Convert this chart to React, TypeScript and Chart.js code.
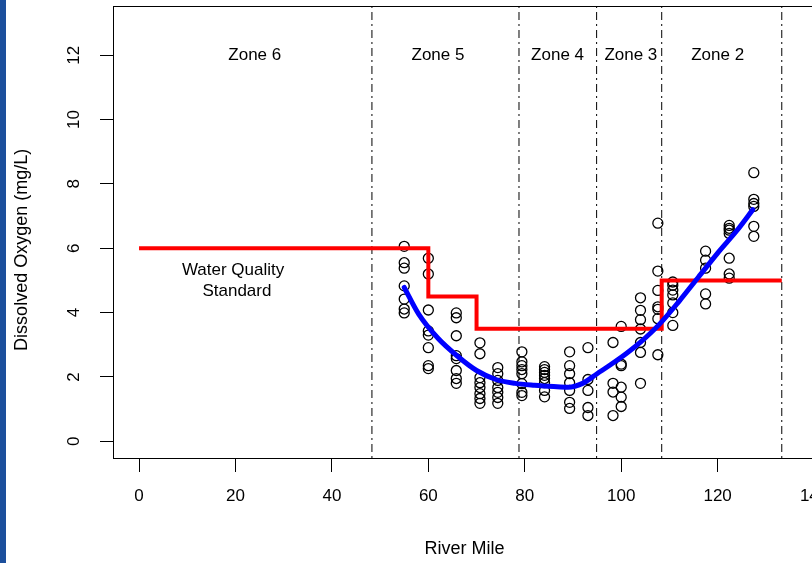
import React, { useEffect, useRef } from "react";
import { Chart, registerables } from "chart.js";

Chart.register(...registerables);

// ---------- data ----------
const xTickValues = [0, 20, 40, 60, 80, 100, 120, 140];
const yTickValues = [0, 2, 4, 6, 8, 10, 12];

const sampleMiles = [55, 60, 65.8, 70.7, 74.4, 79.4, 84.1, 89.3, 93.1, 98.3, 100, 104, 107.6, 110.7, 117.5, 122.4, 127.5];
const sampleDO: number[][] = [
  [6.06, 5.55, 5.38, 4.83, 4.42, 4.11, 3.99],
  [5.69, 5.2, 4.08, 3.43, 3.3, 2.91, 2.35, 2.26],
  [3.99, 3.84, 3.28, 2.66, 2.57, 2.2, 1.95, 1.8],
  [3.06, 2.72, 1.98, 1.82, 1.67, 1.48, 1.33, 1.18],
  [2.29, 2.1, 1.89, 1.67, 1.52, 1.36, 1.18],
  [2.78, 2.47, 2.35, 2.23, 2.1, 1.79, 1.52, 1.42],
  [2.32, 2.23, 2.14, 2.05, 1.95, 1.82, 1.58, 1.38],
  [2.78, 2.35, 2.1, 1.82, 1.58, 1.21, 1.02],
  [2.91, 1.92, 1.58, 1.05, 0.8],
  [3.07, 1.8, 1.53, 0.8],
  [3.57, 2.4, 2.35, 1.68, 1.37, 1.08],
  [4.46, 4.07, 3.78, 3.49, 3.07, 2.76, 1.8],
  [6.78, 5.29, 4.69, 4.18, 4.1, 3.81, 2.69],
  [4.95, 4.85, 4.7, 4.55, 4.3, 4.0, 3.6],
  [5.91, 5.63, 5.38, 4.58, 4.27],
  [6.71, 6.62, 6.56, 6.46, 5.69, 5.2, 5.07],
  [8.35, 7.52, 7.39, 7.3, 6.68, 6.37],
];

const fitMiles = [55, 58, 62, 66, 70, 74, 78, 82, 86, 89, 92, 95, 98, 101, 104, 108, 112, 116, 120, 124, 127.3];
const fitDO = [4.78, 3.95, 3.2, 2.65, 2.2, 1.92, 1.8, 1.74, 1.7, 1.68, 1.8, 2.1, 2.4, 2.72, 3.08, 3.65, 4.35, 5.1, 5.85, 6.55, 7.2];

const standardMiles = [0, 60, 60, 70, 70, 108.4, 108.4, 133.3];
const standardDO = [6, 6, 4.5, 4.5, 3.5, 3.5, 5, 5];

const zoneBoundaries = [48.3, 78.8, 94.9, 108.4, 133.3];
const zoneLabels = ["Zone 6", "Zone 5", "Zone 4", "Zone 3", "Zone 2"];
const zoneLabelMiles = [24, 62, 86.8, 102, 120];
const zoneLabelDO = 12;

const noteLines = ["Water Quality", "Standard"];
const noteMiles = [19.5, 20.3];
const noteDO = [5.3, 4.67];

const xTitle = "River Mile";
const yTitle = "Dissolved Oxygen (mg/L)";

const X_MIN = -5.4;
const X_MAX = 140.4;
const Y_MIN = -0.52;
const Y_MAX = 13.52;

const FONT = "'Liberation Sans', Arial, Helvetica, sans-serif";

function zeroPad(s: any) {
  s.paddingTop = 0;
  s.paddingBottom = 0;
  s.paddingLeft = 0;
  s.paddingRight = 0;
}

export default function App() {
  const ref = useRef<HTMLCanvasElement | null>(null);

  useEffect(() => {
    const canvas = ref.current;
    if (!canvas) return;

    const points: { x: number; y: number }[] = [];
    sampleMiles.forEach((m, i) => sampleDO[i].forEach((v) => points.push({ x: m, y: v })));

    const zoneSets = zoneBoundaries.map((b) => ({
      type: "line" as const,
      data: [
        { x: b, y: Y_MIN },
        { x: b, y: Y_MAX },
      ],
      borderColor: "#000",
      borderWidth: 1,
      borderDash: [2, 4, 8, 4],
      pointRadius: 0,
      fill: false,
      order: 3,
    }));

    const annot = {
      id: "annot",
      afterDatasetsDraw(chart: any) {
        const { ctx, chartArea, scales } = chart;
        const xs = scales.x;
        const ys = scales.y;
        ctx.save();
        ctx.fillStyle = "#000";
        ctx.textAlign = "center";
        ctx.textBaseline = "middle";
        ctx.font = `17px ${FONT}`;
        zoneLabels.forEach((t, i) => {
          ctx.fillText(t, xs.getPixelForValue(zoneLabelMiles[i]), ys.getPixelForValue(zoneLabelDO));
        });
        noteLines.forEach((t, i) => {
          ctx.fillText(t, xs.getPixelForValue(noteMiles[i]), ys.getPixelForValue(noteDO[i]));
        });
        ctx.strokeStyle = "#000";
        ctx.lineWidth = 1;
        ctx.strokeRect(
          Math.round(chartArea.left) + 0.5,
          Math.round(chartArea.top) + 0.5,
          Math.round(chartArea.right - chartArea.left),
          Math.round(chartArea.bottom - chartArea.top)
        );
        // y-axis title (placed as in the reference, slightly below plot centre)
        ctx.font = `18px ${FONT}`;
        ctx.translate(22, ys.getPixelForValue(5.95));
        ctx.rotate(-Math.PI / 2);
        ctx.fillText(yTitle, 0, 0);
        ctx.restore();
      },
    };

    const chart = new Chart(canvas, {
      type: "scatter",
      data: {
        datasets: [
          {
            type: "line",
            data: fitMiles.map((m, i) => ({ x: m, y: fitDO[i] })),
            borderColor: "#0000ff",
            borderWidth: 5,
            pointRadius: 0,
            cubicInterpolationMode: "monotone",
            borderCapStyle: "round",
            fill: false,
            order: 0,
          } as any,
          {
            type: "line",
            data: standardMiles.map((m, i) => ({ x: m, y: standardDO[i] })),
            borderColor: "#ff0000",
            borderWidth: 4,
            pointRadius: 0,
            tension: 0,
            borderJoinStyle: "miter",
            fill: false,
            order: 1,
          } as any,
          {
            type: "scatter",
            data: points,
            pointRadius: 5,
            pointBorderWidth: 1.3,
            borderColor: "#000",
            backgroundColor: "rgba(0,0,0,0)",
            pointBackgroundColor: "rgba(0,0,0,0)",
            pointBorderColor: "#000",
            order: 2,
          } as any,
          ...(zoneSets as any[]),
        ],
      },
      options: {
        animation: false,
        responsive: false,
        maintainAspectRatio: false,
        events: [],
        layout: { padding: { top: 5, right: 14, left: 0, bottom: 0 } },
        plugins: { legend: { display: false }, tooltip: { enabled: false } },
        scales: {
          x: {
            type: "linear",
            min: X_MIN,
            max: X_MAX,
            afterBuildTicks: (s: any) => {
              s.ticks = xTickValues.map((v) => ({ value: v }));
            },
            afterFit: (s: any) => {
              s.height = 105;
              zeroPad(s);
            },
            grid: { drawOnChartArea: false, drawTicks: true, tickLength: 14, color: "#000", tickColor: "#000", lineWidth: 1 },
            border: { display: false },
            ticks: { autoSkip: false, maxRotation: 0, minRotation: 0, padding: 14, color: "#000", font: { family: FONT, size: 17 } },
            title: { display: true, text: xTitle, color: "#000", font: { family: FONT, size: 18 }, padding: { top: 0, bottom: 3 } },
          },
          y: {
            type: "linear",
            min: Y_MIN,
            max: Y_MAX,
            afterBuildTicks: (s: any) => {
              s.ticks = yTickValues.map((v) => ({ value: v }));
            },
            afterFit: (s: any) => {
              s.width = 113;
              zeroPad(s);
            },
            grid: { drawOnChartArea: false, drawTicks: true, tickLength: 13, color: "#000", tickColor: "#000", lineWidth: 1 },
            border: { display: false },
            ticks: { autoSkip: false, minRotation: 90, maxRotation: 90, crossAlign: "center", padding: 16, color: "#000", font: { family: FONT, size: 17 } },
            title: { display: false, text: yTitle },
          },
        },
      } as any,
      plugins: [annot],
    });

    return () => chart.destroy();
  }, []);

  return (
    <div style={{ position: "fixed", left: 0, top: 0, width: 812, height: 563, overflow: "hidden", background: "#fff" }}>
      <canvas ref={ref} width={830} height={563} style={{ position: "absolute", left: 0, top: 0, width: 830, height: 563 }} />
      <div style={{ position: "absolute", left: 0, top: 0, width: 6, height: 563, background: "#1c4f9c" }} />
    </div>
  );
}
